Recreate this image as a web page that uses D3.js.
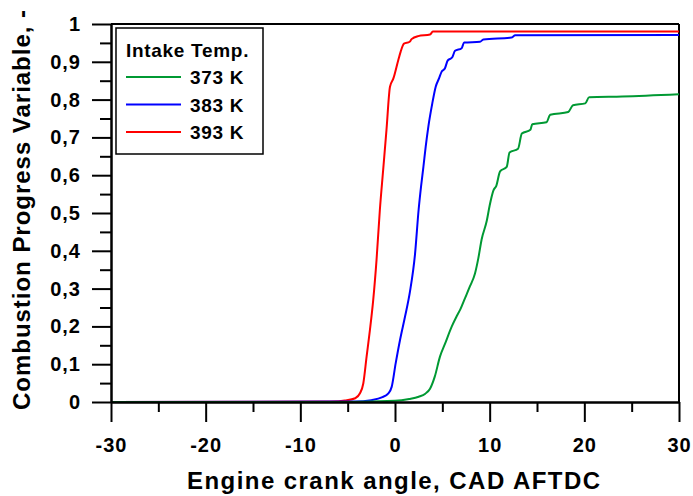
<!DOCTYPE html>
<html>
<head>
<meta charset="utf-8">
<script src="https://cdn.jsdelivr.net/npm/d3@7"></script>
<style>
  body { margin: 0; background: #fff; }
  svg text { font-family: "Liberation Sans", Arial, sans-serif; font-weight: bold; fill: #000; }
</style>
</head>
<body>
<svg id="chart" width="693" height="496"></svg>
<script>
// series (crank angle in CAD, progress variable 0..1)
var xRed = [-30, -8, -6, -5.3, -4.2, -3.7, -3.35, -3.0, -2.65, -2.3, -1.95, -1.6, -1.25, -0.9, -0.53, -0.17, 0.35, 0.6, 0.95, 1.55, 1.75, 2.45, 3.7, 4.0, 30];
var yRed = [0, 0.001, 0.002, 0.004, 0.01, 0.023, 0.049, 0.12, 0.19, 0.27, 0.376, 0.508, 0.614, 0.72, 0.834, 0.856, 0.905, 0.927, 0.948, 0.953, 0.96, 0.968, 0.972, 0.98, 0.98];

var xBlue = [-30, -4.2, -2.5, -1.4, -0.7, -0.35, 0.07, 0.53, 1.06, 1.58, 2.11, 2.5, 2.75, 3.0, 3.24, 3.52, 3.94, 4.3, 4.65, 4.93, 5.28, 5.56, 6.05, 6.34, 7.04, 7.3, 8.98, 9.33, 12.3, 12.7, 30];
var yBlue = [0, 0.001, 0.005, 0.012, 0.023, 0.04, 0.102, 0.164, 0.226, 0.292, 0.39, 0.51, 0.57, 0.622, 0.675, 0.728, 0.79, 0.834, 0.856, 0.874, 0.883, 0.903, 0.912, 0.929, 0.936, 0.951, 0.953, 0.959, 0.964, 0.97, 0.971];

var xGreen = [-30, -5, 0, 1.5, 2.5, 3.2, 3.7, 4.2, 4.75, 5.3, 6.0, 6.5, 6.9, 7.4, 7.9, 8.45, 8.8, 9.15, 9.7, 10.0, 10.4, 10.7, 11.1, 11.8, 12.1, 13.0, 13.4, 14.3, 14.5, 16.0, 16.4, 18.3, 18.8, 20.1, 20.5, 24, 30];
var yGreen = [0, 0, 0.003, 0.008, 0.014, 0.022, 0.035, 0.067, 0.12, 0.155, 0.2, 0.226, 0.245, 0.275, 0.305, 0.34, 0.38, 0.43, 0.48, 0.52, 0.56, 0.572, 0.61, 0.622, 0.66, 0.67, 0.71, 0.72, 0.735, 0.74, 0.76, 0.767, 0.785, 0.79, 0.806, 0.808, 0.814];

var seriesNames = ["373 K", "383 K", "393 K"];
var seriesColors = ["#009933", "#0000ff", "#ff0000"];

var xMajor = [-30, -20, -10, 0, 10, 20, 30];
var xMinor = [-25, -15, -5, 5, 15, 25];
var yMajor = [0, 0.1, 0.2, 0.3, 0.4, 0.5, 0.6, 0.7, 0.8, 0.9, 1];
var yMinor = [0.05, 0.15, 0.25, 0.35, 0.45, 0.55, 0.65, 0.75, 0.85, 0.95];

var margin = { top: 24, left: 111, right: 14, bottom: 94 };
var width = 693 - margin.left - margin.right;
var height = 496 - margin.top - margin.bottom;

var svg = d3.select("#chart");
var g = svg.append("g").attr("transform", "translate(" + margin.left + "," + margin.top + ")");

var x = d3.scaleLinear().domain([-30, 30]).range([0, width]);
var y = d3.scaleLinear().domain([0, 1]).range([height, 0]);

function fmtY(d) {
  if (d === 0 || d === 1) return String(d);
  return d.toFixed(1).replace(".", ",");
}

// frame: top and right
g.append("line").attr("x1", 0).attr("x2", width).attr("y1", 0).attr("y2", 0)
  .attr("stroke", "#000").attr("stroke-width", 2);
g.append("line").attr("x1", width).attr("x2", width).attr("y1", 0).attr("y2", height)
  .attr("stroke", "#000").attr("stroke-width", 2);

// curves
var line = d3.line()
  .x(d => x(d[0]))
  .y(d => y(d[1]))
  .curve(d3.curveMonotoneX);

var curves = [
  { xs: xRed, ys: yRed, color: seriesColors[2] },
  { xs: xBlue, ys: yBlue, color: seriesColors[1] },
  { xs: xGreen, ys: yGreen, color: seriesColors[0] }
];
curves.forEach(function (c) {
  g.append("path")
    .datum(d3.zip(c.xs, c.ys))
    .attr("fill", "none")
    .attr("stroke", c.color)
    .attr("stroke-width", 2)
    .attr("d", line);
});

// axes
g.append("g").attr("transform", "translate(0," + height + ")")
  .call(d3.axisBottom(x).tickValues(xMajor).tickSize(20).tickSizeOuter(0).tickPadding(16).tickFormat(d => String(d)));
g.append("g").attr("transform", "translate(0," + height + ")")
  .call(d3.axisBottom(x).tickValues(xMinor).tickSize(10).tickSizeOuter(0).tickFormat(""));
g.append("g")
  .call(d3.axisLeft(y).tickValues(yMajor).tickSize(19).tickSizeOuter(0).tickPadding(11).tickFormat(fmtY));
g.append("g")
  .call(d3.axisLeft(y).tickValues(yMinor).tickSize(11).tickSizeOuter(0).tickFormat(""));

g.selectAll(".domain").attr("stroke", "#000").attr("stroke-width", 2);
g.selectAll(".tick line").attr("stroke", "#000").attr("stroke-width", 2);
g.selectAll(".tick text")
  .style("font-size", "20px")
  .style("letter-spacing", "1px")
  .style("font-family", "Liberation Sans, Arial, sans-serif")
  .style("font-weight", "bold");

// axis titles
svg.append("text")
  .attr("x", 393.5)
  .attr("y", 489)
  .attr("text-anchor", "middle")
  .attr("textLength", 413)
  .style("font-size", "24px")
  .text("Engine crank angle, CAD AFTDC");

svg.append("text")
  .attr("transform", "translate(30,210) rotate(-90)")
  .attr("text-anchor", "middle")
  .attr("textLength", 400)
  .style("font-size", "24px")
  .text("Combustion Progress Variable, -");

// legend
var legend = svg.append("g").attr("transform", "translate(116,28)");
legend.append("rect")
  .attr("width", 147).attr("height", 126)
  .attr("fill", "#fff").attr("stroke", "#000").attr("stroke-width", 1.5);
legend.append("text").attr("x", 10).attr("y", 29)
  .style("font-size", "19px").style("letter-spacing", "0.7px").text("Intake Temp.");
seriesNames.forEach(function (name, i) {
  var yy = 49 + i * 27.5;
  legend.append("line")
    .attr("x1", 10).attr("x2", 65).attr("y1", yy).attr("y2", yy)
    .attr("stroke", seriesColors[i]).attr("stroke-width", 2);
  legend.append("text").attr("x", 74).attr("y", yy + 7)
    .style("font-size", "19px").style("letter-spacing", "0.7px").text(name);
});
</script>
</body>
</html>
